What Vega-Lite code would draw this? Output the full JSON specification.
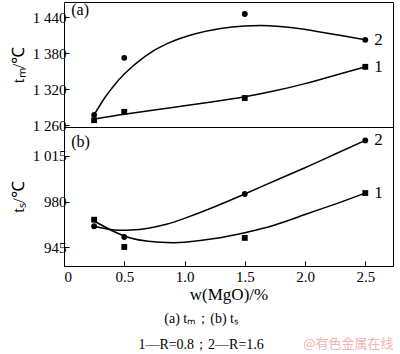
{
  "$schema": "https://vega.github.io/schema/vega-lite/v6.json",
  "padding": {"left": 8, "top": 1, "right": 2, "bottom": 2},
  "spacing": 0,
  "bounds": "flush",
  "config": {
    "font": "Liberation Serif",
    "view": {"stroke": "black", "strokeWidth": 1},
    "axis": {
      "grid": false,
      "domain": false,
      "tickColor": "black",
      "tickSize": -5,
      "labelColor": "black",
      "labelFont": "Liberation Serif",
      "labelFontSize": 15,
      "titleFont": "Liberation Serif",
      "titleFontSize": 17,
      "titleFontWeight": "normal",
      "titleColor": "black"
    }
  },
  "datasets": {
    "points": [
      {"panel": "a", "series": "1", "w": 0.25, "t": 1268},
      {"panel": "a", "series": "1", "w": 0.5, "t": 1282},
      {"panel": "a", "series": "1", "w": 1.5, "t": 1305},
      {"panel": "a", "series": "1", "w": 2.5, "t": 1357},
      {"panel": "a", "series": "2", "w": 0.25, "t": 1277},
      {"panel": "a", "series": "2", "w": 0.5, "t": 1372},
      {"panel": "a", "series": "2", "w": 1.5, "t": 1445},
      {"panel": "a", "series": "2", "w": 2.5, "t": 1402},
      {"panel": "b", "series": "1", "w": 0.25, "t": 966},
      {"panel": "b", "series": "1", "w": 0.5, "t": 945},
      {"panel": "b", "series": "1", "w": 1.5, "t": 952},
      {"panel": "b", "series": "1", "w": 2.5, "t": 986.5},
      {"panel": "b", "series": "2", "w": 0.25, "t": 961},
      {"panel": "b", "series": "2", "w": 0.5, "t": 952.7},
      {"panel": "b", "series": "2", "w": 1.5, "t": 985.8},
      {"panel": "b", "series": "2", "w": 2.5, "t": 1027}
    ],
    "curves": [
      {"panel": "a", "series": "1", "w": 0.25, "t": 1270},
      {"panel": "a", "series": "1", "w": 0.5, "t": 1278},
      {"panel": "a", "series": "1", "w": 0.75, "t": 1285},
      {"panel": "a", "series": "1", "w": 1.0, "t": 1292},
      {"panel": "a", "series": "1", "w": 1.25, "t": 1299},
      {"panel": "a", "series": "1", "w": 1.5, "t": 1307},
      {"panel": "a", "series": "1", "w": 1.75, "t": 1317},
      {"panel": "a", "series": "1", "w": 2.0, "t": 1329},
      {"panel": "a", "series": "1", "w": 2.25, "t": 1343},
      {"panel": "a", "series": "1", "w": 2.5, "t": 1357},
      {"panel": "a", "series": "2", "w": 0.25, "t": 1277},
      {"panel": "a", "series": "2", "w": 0.33, "t": 1303},
      {"panel": "a", "series": "2", "w": 0.4, "t": 1322},
      {"panel": "a", "series": "2", "w": 0.5, "t": 1345},
      {"panel": "a", "series": "2", "w": 0.67, "t": 1374},
      {"panel": "a", "series": "2", "w": 0.86, "t": 1396},
      {"panel": "a", "series": "2", "w": 1.09, "t": 1412},
      {"panel": "a", "series": "2", "w": 1.3, "t": 1421},
      {"panel": "a", "series": "2", "w": 1.5, "t": 1425},
      {"panel": "a", "series": "2", "w": 1.7, "t": 1425.5},
      {"panel": "a", "series": "2", "w": 1.9, "t": 1422},
      {"panel": "a", "series": "2", "w": 2.1, "t": 1416},
      {"panel": "a", "series": "2", "w": 2.3, "t": 1409},
      {"panel": "a", "series": "2", "w": 2.5, "t": 1402},
      {"panel": "b", "series": "1", "w": 0.25, "t": 965},
      {"panel": "b", "series": "1", "w": 0.4, "t": 957.5},
      {"panel": "b", "series": "1", "w": 0.55, "t": 952},
      {"panel": "b", "series": "1", "w": 0.7, "t": 949.5},
      {"panel": "b", "series": "1", "w": 0.85, "t": 948.5},
      {"panel": "b", "series": "1", "w": 1.0, "t": 948.7},
      {"panel": "b", "series": "1", "w": 1.25, "t": 951.5},
      {"panel": "b", "series": "1", "w": 1.5, "t": 956},
      {"panel": "b", "series": "1", "w": 1.75, "t": 962},
      {"panel": "b", "series": "1", "w": 2.0, "t": 970},
      {"panel": "b", "series": "1", "w": 2.25, "t": 978},
      {"panel": "b", "series": "1", "w": 2.5, "t": 986.5},
      {"panel": "b", "series": "2", "w": 0.25, "t": 961},
      {"panel": "b", "series": "2", "w": 0.4, "t": 958.3},
      {"panel": "b", "series": "2", "w": 0.55, "t": 958},
      {"panel": "b", "series": "2", "w": 0.7, "t": 959.5},
      {"panel": "b", "series": "2", "w": 0.85, "t": 962.5},
      {"panel": "b", "series": "2", "w": 1.0, "t": 967},
      {"panel": "b", "series": "2", "w": 1.25, "t": 976},
      {"panel": "b", "series": "2", "w": 1.5, "t": 985.8},
      {"panel": "b", "series": "2", "w": 1.75, "t": 996},
      {"panel": "b", "series": "2", "w": 2.0, "t": 1006},
      {"panel": "b", "series": "2", "w": 2.25, "t": 1016.5},
      {"panel": "b", "series": "2", "w": 2.5, "t": 1027}
    ],
    "endLabels": [
      {"panel": "a", "label": "1", "w": 2.5, "t": 1357},
      {"panel": "a", "label": "2", "w": 2.5, "t": 1402},
      {"panel": "b", "label": "1", "w": 2.5, "t": 986.5},
      {"panel": "b", "label": "2", "w": 2.5, "t": 1027}
    ],
    "panelLabels": [
      {"panel": "a", "label": "(a)", "w": 0.06, "t": 1451},
      {"panel": "b", "label": "(b)", "w": 0.06, "t": 1026}
    ]
  },
  "vconcat": [
    {
      "width": 329,
      "height": 125,
      "encoding": {
        "x": {"field": "w", "type": "quantitative", "scale": {"domain": [0, 2.73], "nice": false, "zero": false}, "axis": null},
        "y": {
          "field": "t", "type": "quantitative",
          "scale": {"domain": [1256.7, 1465], "nice": false, "zero": false},
          "axis": {"title": "tₘ/℃", "values": [1260, 1320, 1380, 1440], "labelExpr": "replace(format(datum.value, ','), ',', ' ')", "labelPadding": 3, "titlePadding": 5}
        }
      },
      "layer": [
        {
          "data": {"name": "curves"},
          "transform": [{"filter": "datum.panel == 'a'"}],
          "mark": {"type": "line", "interpolate": "natural", "color": "black", "strokeWidth": 1.5},
          "encoding": {"detail": {"field": "series"}}
        },
        {
          "data": {"name": "points"},
          "transform": [{"filter": "datum.panel == 'a'"}],
          "mark": {"type": "point", "filled": true, "color": "black", "opacity": 1},
          "encoding": {
            "shape": {"field": "series", "type": "nominal", "scale": {"domain": ["1", "2"], "range": ["square", "circle"]}, "legend": null},
            "size": {"value": 34}
          }
        },
        {
          "data": {"name": "endLabels"},
          "transform": [{"filter": "datum.panel == 'a'"}],
          "mark": {"type": "text", "align": "left", "baseline": "middle", "dx": 9, "fontSize": 17, "color": "black"},
          "encoding": {"text": {"field": "label"}}
        },
        {
          "data": {"name": "panelLabels"},
          "transform": [{"filter": "datum.panel == 'a'"}],
          "mark": {"type": "text", "align": "left", "baseline": "middle", "fontSize": 16, "color": "black"},
          "encoding": {"text": {"field": "label"}}
        }
      ]
    },
    {
      "width": 329,
      "height": 139,
      "title": {
        "text": "(a) tₘ；(b) tₛ",
        "subtitle": "1—R=0.8；2—R=1.6",
        "orient": "bottom",
        "anchor": "middle",
        "frame": "bounds",
        "font": "Liberation Serif",
        "fontSize": 14,
        "fontWeight": "normal",
        "color": "black",
        "subtitleFont": "Liberation Serif",
        "subtitleFontSize": 14,
        "subtitleColor": "black",
        "subtitlePadding": 12,
        "offset": 10
      },
      "encoding": {
        "x": {
          "field": "w", "type": "quantitative", "scale": {"domain": [0, 2.73], "nice": false, "zero": false},
          "axis": {"title": "w(MgO)/%", "values": [0, 0.5, 1, 1.5, 2, 2.5], "labelExpr": "datum.value == 0 ? '0' : format(datum.value, '.1f')", "labelPadding": 8, "titlePadding": 2}
        },
        "y": {
          "field": "t", "type": "quantitative",
          "scale": {"domain": [930.4, 1037.3], "nice": false, "zero": false},
          "axis": {"title": "tₛ/℃", "values": [945, 980, 1015], "labelExpr": "replace(format(datum.value, ','), ',', ' ')", "labelPadding": 3, "titlePadding": 5}
        }
      },
      "layer": [
        {
          "data": {"name": "curves"},
          "transform": [{"filter": "datum.panel == 'b'"}],
          "mark": {"type": "line", "interpolate": "natural", "color": "black", "strokeWidth": 1.5},
          "encoding": {"detail": {"field": "series"}}
        },
        {
          "data": {"name": "points"},
          "transform": [{"filter": "datum.panel == 'b'"}],
          "mark": {"type": "point", "filled": true, "color": "black", "opacity": 1},
          "encoding": {
            "shape": {"field": "series", "type": "nominal", "scale": {"domain": ["1", "2"], "range": ["square", "circle"]}, "legend": null},
            "size": {"value": 34}
          }
        },
        {
          "data": {"name": "endLabels"},
          "transform": [{"filter": "datum.panel == 'b'"}],
          "mark": {"type": "text", "align": "left", "baseline": "middle", "dx": 9, "fontSize": 17, "color": "black"},
          "encoding": {"text": {"field": "label"}}
        },
        {
          "data": {"name": "panelLabels"},
          "transform": [{"filter": "datum.panel == 'b'"}],
          "mark": {"type": "text", "align": "left", "baseline": "middle", "fontSize": 16, "color": "black"},
          "encoding": {"text": {"field": "label"}}
        }
      ]
    }
  ],
  "title": {
    "text": "@有色金属在线",
    "orient": "bottom",
    "anchor": "end",
    "font": "Noto Sans CJK SC",
    "fontSize": 13,
    "fontWeight": "normal",
    "color": "#f2b3b3",
    "offset": -15
  }
}
